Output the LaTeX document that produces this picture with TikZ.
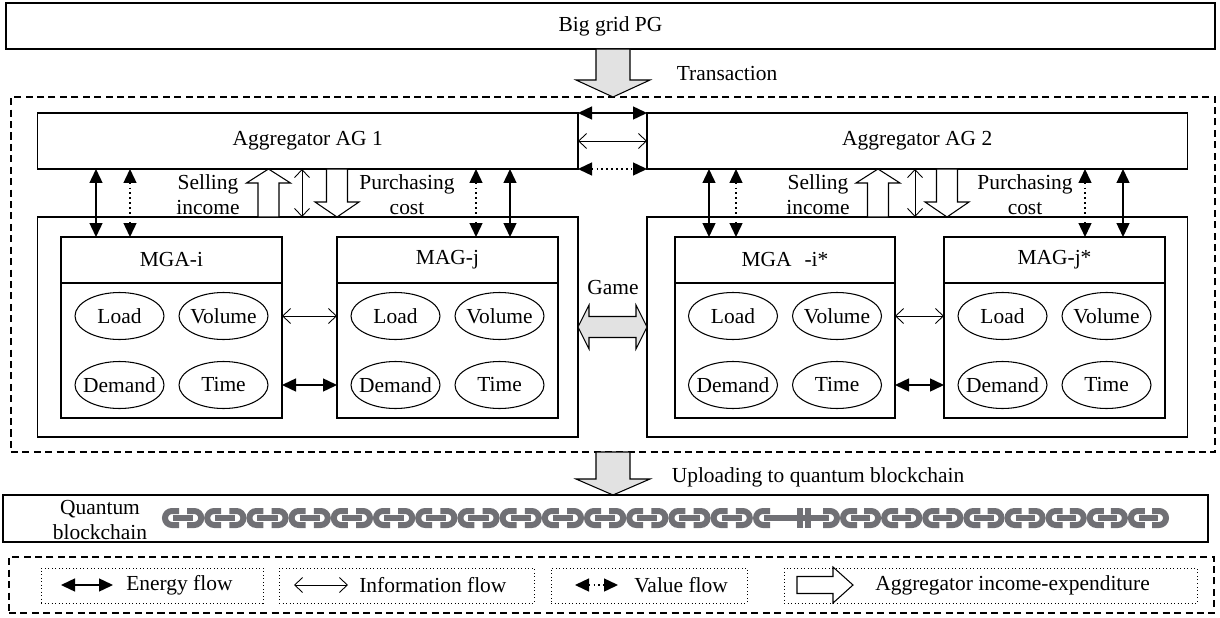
\documentclass[tikz,border=0pt]{standalone}
\usepackage{fontspec}
\setmainfont{Liberation Serif}
\usetikzlibrary{positioning,arrows.meta,shapes.geometric}
\definecolor{chaingray}{RGB}{112,112,117}
\definecolor{arrowgray}{RGB}{226,226,226}

\begin{document}
\begin{tikzpicture}[every node/.style={font=\fontsize{12.2}{14.2}\selectfont}]
  % box, oval and flow styles
  \tikzset{box/.style={draw, line width=0.6pt, inner sep=0pt, outer sep=0pt, align=center},
    oval/.style={draw, ellipse, line width=0.6pt, minimum width=1.78cm, minimum height=0.94cm, inner xsep=-0.15cm, inner ysep=0pt},
    energy/.style={line width=0.8pt, {Triangle[length=2.8mm,width=2.6mm]}-{Triangle[length=2.8mm,width=2.6mm]}},
    info/.style={line width=0.5pt, {Straight Barb[length=1.6mm,width=3mm]}-{Straight Barb[length=1.6mm,width=3mm]}},
    value/.style={line width=0.8pt, dotted, {Triangle[length=2.8mm,width=2.6mm]}-{Triangle[length=2.8mm,width=2.6mm]}},
    hollow/.style={draw, fill=white, line width=0.6pt},
    grayarrow/.style={draw, fill=arrowgray, line width=0.6pt},
    dashbox/.style={draw, dash pattern=on 4pt off 2.5pt, line width=0.6pt, inner sep=0pt, outer sep=0pt},
    legbox/.style={draw, dash pattern=on 0.4pt off 1.6pt, line width=0.4pt, inner sep=0pt},
    link/.style={draw=chaingray, line width=0.12cm}}
  \useasboundingbox (0,0) rectangle (24.4,-12.36);

  % grid and the market frame
  \node[box, minimum width=24.18cm, minimum height=0.92cm] (pg) at (12.21,-0.52) {Big grid PG};
  \node[dashbox, minimum width=24.08cm, minimum height=7.10cm] (outer) at (12.26,-5.49) {};
  \draw[grayarrow] (outer.north) -- ++(-0.74,0.34) -- ++(0.40,0) -- ++(0,0.62) -- ++(0.68,0) -- ++(0,-0.62) -- ++(0.40,0) -- cycle;
  \node (trans) at (14.54,-1.48) {Transaction};

  % aggregators and their microgrid groups
  \node[box, minimum width=10.81cm, minimum height=1.12cm] (ag1) at (6.155,-2.82) {Aggregator AG 1};
  \node[box, minimum width=10.81cm, minimum height=1.12cm, right=1.38cm of ag1] (ag2) {Aggregator AG 2};
  \node[box, minimum width=10.81cm, minimum height=4.40cm, below=0.96cm of ag1] (mg1) {};
  \node[box, minimum width=10.81cm, minimum height=4.40cm, below=0.96cm of ag2] (mg2) {};

  \node[box, minimum width=4.42cm, minimum height=0.92cm] (hd1) at (3.43,-5.20) {MGA-i};
  \node[box, minimum width=4.42cm, minimum height=0.92cm, right=1.10cm of hd1] (hd2) {MAG-j};
  \node[box, minimum width=4.40cm, minimum height=0.92cm] (hd3) at (15.70,-5.20) {MGA\hspace{0.6em}-i*};
  \node[box, minimum width=4.42cm, minimum height=0.92cm, right=0.98cm of hd3] (hd4) {MAG-j*};
  \node[box, minimum width=4.42cm, minimum height=2.70cm, below=0pt of hd1] (bd1) {};
  \node[box, minimum width=4.42cm, minimum height=2.70cm, below=0pt of hd2] (bd2) {};
  \node[box, minimum width=4.40cm, minimum height=2.70cm, below=0pt of hd3] (bd3) {};
  \node[box, minimum width=4.42cm, minimum height=2.70cm, below=0pt of hd4] (bd4) {};

  % attributes inside each group
  \node[oval] (load1) at ([shift={(-1.04,0.69)}]bd1.center) {Load};
  \node[oval] (vol1) at ([shift={(1.04,0.69)}]bd1.center) {Volume};
  \node[oval] (dem1) at ([shift={(-1.04,-0.69)}]bd1.center) {Demand};
  \node[oval] (time1) at ([shift={(1.04,-0.69)}]bd1.center) {Time};
  \node[oval] (load2) at ([shift={(-1.04,0.69)}]bd2.center) {Load};
  \node[oval] (vol2) at ([shift={(1.04,0.69)}]bd2.center) {Volume};
  \node[oval] (dem2) at ([shift={(-1.04,-0.69)}]bd2.center) {Demand};
  \node[oval] (time2) at ([shift={(1.04,-0.69)}]bd2.center) {Time};
  \node[oval] (load3) at ([shift={(-1.04,0.69)}]bd3.center) {Load};
  \node[oval] (vol3) at ([shift={(1.04,0.69)}]bd3.center) {Volume};
  \node[oval] (dem3) at ([shift={(-1.04,-0.69)}]bd3.center) {Demand};
  \node[oval] (time3) at ([shift={(1.04,-0.69)}]bd3.center) {Time};
  \node[oval] (load4) at ([shift={(-1.04,0.69)}]bd4.center) {Load};
  \node[oval] (vol4) at ([shift={(1.04,0.69)}]bd4.center) {Volume};
  \node[oval] (dem4) at ([shift={(-1.04,-0.69)}]bd4.center) {Demand};
  \node[oval] (time4) at ([shift={(1.04,-0.69)}]bd4.center) {Time};

  % flows between the two aggregators
  \draw[energy] (ag1.north east) -- (ag2.north west);
  \draw[info] (ag1.east) -- (ag2.west);
  \draw[value] (ag1.south east) -- (ag2.south west);

  % flows from aggregators down to the groups
  \draw[energy] (1.92,0 |- ag1.south) -- (1.92,0 |- hd1.north);
  \draw[value] (2.60,0 |- ag1.south) -- (2.60,0 |- hd1.north);
  \draw[info] (6.04,0 |- ag1.south) -- (6.04,0 |- mg1.north);
  \draw[value] (9.52,0 |- ag1.south) -- (9.52,0 |- hd2.north);
  \draw[energy] (10.20,0 |- ag1.south) -- (10.20,0 |- hd2.north);
  \draw[energy] (14.18,0 |- ag2.south) -- (14.18,0 |- hd3.north);
  \draw[value] (14.72,0 |- ag2.south) -- (14.72,0 |- hd3.north);
  \draw[info] (18.30,0 |- ag2.south) -- (18.30,0 |- mg2.north);
  \draw[value] (21.70,0 |- ag2.south) -- (21.70,0 |- hd4.north);
  \draw[energy] (22.46,0 |- ag2.south) -- (22.46,0 |- hd4.north);

  % selling income (up) and purchasing cost (down)
  \draw[hollow] (5.37,0 |- ag1.south) -- ++(0.44,-0.28) -- ++(-0.23,0) -- (5.58,0 |- mg1.north) -- (5.16,0 |- mg1.north) -- ++(0,0.68) -- ++(-0.23,0) -- cycle;
  \draw[hollow] (6.74,0 |- mg1.north) -- ++(0.44,0.30) -- ++(-0.23,0) -- (6.95,0 |- ag1.south) -- (6.53,0 |- ag1.south) -- ++(0,-0.66) -- ++(-0.23,0) -- cycle;
  \draw[hollow] (17.56,0 |- ag2.south) -- ++(0.44,-0.28) -- ++(-0.23,0) -- (17.77,0 |- mg2.north) -- (17.35,0 |- mg2.north) -- ++(0,0.68) -- ++(-0.23,0) -- cycle;
  \draw[hollow] (18.94,0 |- mg2.north) -- ++(0.44,0.30) -- ++(-0.23,0) -- (19.15,0 |- ag2.south) -- (18.73,0 |- ag2.south) -- ++(0,-0.66) -- ++(-0.23,0) -- cycle;
  \node[align=center] (sell1) at (4.16,-3.90) {Selling\\income};
  \node[align=center] (buy1) at (8.14,-3.90) {Purchasing\\cost};
  \node[align=center] (sell2) at (16.36,-3.90) {Selling\\income};
  \node[align=center] (buy2) at (20.50,-3.90) {Purchasing\\cost};

  % flows between the groups
  \draw[info] (bd1.east |- load1.center) -- (bd2.west |- load1.center);
  \draw[energy] (bd1.east |- dem1.center) -- (bd2.west |- dem1.center);
  \draw[info] (bd3.east |- load3.center) -- (bd4.west |- load3.center);
  \draw[energy] (bd3.east |- dem3.center) -- (bd4.west |- dem3.center);

  % game between the two sides
  \draw[grayarrow] (mg1.east) -- ++(0.22,0.44) -- ++(0,-0.23) -- ++(0.94,0) -- ++(0,0.23) -- (mg2.west) -- ++(-0.22,-0.44) -- ++(0,0.23) -- ++(-0.94,0) -- ++(0,-0.23) -- cycle;
  \node (game) at (12.26,-5.76) {Game};

  % upload to the chain
  \draw[grayarrow] (outer.south) ++(-0.34,0) -- ++(0,-0.54) -- ++(-0.40,0) -- ++(0.74,-0.32) -- ++(0.74,0.32) -- ++(-0.40,0) -- ++(0,0.54) -- cycle;
  \node (upload) at (16.36,-9.54) {Uploading to quantum blockchain};
  \node[box, minimum width=24.10cm, minimum height=0.94cm] (qbox) at (12.11,-10.37) {};
  \node[align=center] (qlabel) at (2.0,-10.40) {Quantum\\blockchain};

  % chain links
  \foreach \i in {0,...,13} {
    \pgfmathsetmacro{\xa}{3.24+0.844*\i}
    \pgfmathsetmacro{\xb}{\xa+0.844}
    \draw[link] (\xa+0.34,-10.22) -- (\xa+0.20,-10.22) arc[start angle=90, end angle=270, radius=0.14] -- (\xa+0.34,-10.50);
    \draw[link] (\xa+0.22,-10.36) -- (\xb-0.22,-10.36);
    \draw[link] (\xb-0.34,-10.22) -- (\xb-0.20,-10.22) arc[start angle=90, end angle=-90, radius=0.14] -- (\xb-0.34,-10.50);
  }
  \draw[link] (15.40,-10.22) -- (15.26,-10.22) arc[start angle=90, end angle=270, radius=0.14] -- (15.40,-10.50);
  \draw[link] (15.28,-10.36) -- (16.58,-10.36);
  \draw[link] (15.99,-10.16) -- (15.99,-10.56);
  \draw[link] (16.15,-10.16) -- (16.15,-10.56);
  \draw[link] (16.46,-10.22) -- (16.60,-10.22) arc[start angle=90, end angle=-90, radius=0.14] -- (16.46,-10.50);
  \foreach \i in {0,...,7} {
    \pgfmathsetmacro{\xa}{16.80+0.8225*\i}
    \pgfmathsetmacro{\xb}{\xa+0.8225}
    \draw[link] (\xa+0.34,-10.22) -- (\xa+0.20,-10.22) arc[start angle=90, end angle=270, radius=0.14] -- (\xa+0.34,-10.50);
    \draw[link] (\xa+0.22,-10.36) -- (\xb-0.22,-10.36);
    \draw[link] (\xb-0.34,-10.22) -- (\xb-0.20,-10.22) arc[start angle=90, end angle=-90, radius=0.14] -- (\xb-0.34,-10.50);
  }

  % legend
  \node[dashbox, minimum width=24.10cm, minimum height=1.12cm] (legend) at (12.23,-11.70) {};
  \node[legbox, minimum width=4.44cm, minimum height=0.70cm] (lb1) at (3.04,-11.71) {};
  \node[legbox, minimum width=5.10cm, minimum height=0.70cm] (lb2) at (8.13,-11.71) {};
  \node[legbox, minimum width=3.92cm, minimum height=0.70cm] (lb3) at (12.98,-11.71) {};
  \node[legbox, minimum width=8.26cm, minimum height=0.70cm] (lb4) at (19.81,-11.71) {};
  \node[anchor=west, inner sep=0pt] (lge) at (2.52,-11.70) {Energy flow};
  \node[anchor=west, inner sep=0pt] (lgi) at (7.18,-11.70) {Information flow};
  \node[anchor=west, inner sep=0pt] (lgv) at (12.68,-11.70) {Value flow};
  \node[anchor=west, inner sep=0pt] (lga) at (17.50,-11.70) {Aggregator income-expenditure};
  \draw[energy] ([xshift=-1.30cm]lge.west) -- ([xshift=-0.26cm]lge.west);
  \draw[info] ([xshift=-1.30cm]lgi.west) -- ([xshift=-0.22cm]lgi.west);
  \draw[value] ([xshift=-1.18cm]lgv.west) -- ([xshift=-0.32cm]lgv.west);
  \draw[hollow] ([xshift=-0.44cm]lga.west) -- ++(-0.40,0.36) -- ++(0,-0.19) -- ++(-0.72,0) -- ++(0,-0.34) -- ++(0.72,0) -- ++(0,-0.19) -- cycle;
\end{tikzpicture}
\end{document}
